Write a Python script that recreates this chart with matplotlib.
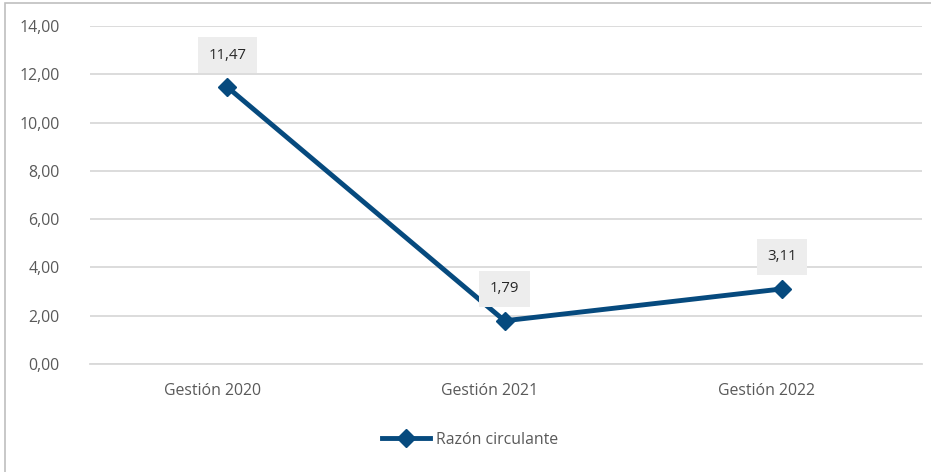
import matplotlib
matplotlib.use("Agg")
import matplotlib.pyplot as plt
import matplotlib.transforms as mtransforms
from matplotlib.patches import Rectangle

# —— 数据 —— #
categories = ["Gestión 2020", "Gestión 2021", "Gestión 2022"]
razon_circulante = [11.47, 1.79, 3.11]
y_ticks = [0, 2, 4, 6, 8, 10, 12, 14]
series_name = "Razón circulante"

LINE_C = "#064A7E"
GRID_C = "#D9D9D9"
TEXT_C = "#595959"

plt.rcParams["font.family"] = ["Open Sans", "DejaVu Sans"]

def fmt(v, nd=2):
    return f"{v:.{nd}f}".replace(".", ",")

fig = plt.figure(figsize=(9.31, 4.72), dpi=100)
ax = fig.add_axes([90/931, 1-364/472, (922-90)/931, (364-26)/472])

xs = list(range(len(categories)))
ax.plot(xs, razon_circulante, color=LINE_C, lw=3.5, marker="D", ms=9.5,
        markerfacecolor=LINE_C, markeredgecolor=LINE_C, label=series_name,
        solid_joinstyle="miter", zorder=3)

ax.set_xlim(-0.495, 2.505)
ax.set_ylim(0, 14)
ax.set_yticks(y_ticks)
ax.set_yticklabels([fmt(t) for t in y_ticks])
ax.set_xticks(xs)
ax.set_xticklabels(categories)
ax.grid(True, axis="y", color=GRID_C, lw=1.3)
ax.set_axisbelow(True)
for s in ["top", "right", "left"]:
    ax.spines[s].set_visible(False)
ax.spines["bottom"].set_color(GRID_C)
ax.spines["bottom"].set_linewidth(1.3)
ax.tick_params(axis="both", length=0, colors=TEXT_C, labelsize=11.4)
ax.tick_params(axis="y", pad=22)
ax.tick_params(axis="x", pad=14)

# Excel 的分类标签稍微偏左
off = mtransforms.ScaledTranslation(-15/100, 0, fig.dpi_scale_trans)
for lbl in ax.get_xticklabels():
    lbl.set_transform(lbl.get_transform() + off)

# 数据标签
for x, v in zip(xs, razon_circulante):
    ax.annotate(fmt(v), (x, v), xytext=(0, 23), textcoords="offset points",
                ha="center", va="center", fontsize=10.8, color="#262626",
                bbox=dict(boxstyle="square,pad=0.7", fc="#EDEDED", ec="none"),
                zorder=4)

leg = fig.legend(loc="center", bbox_to_anchor=(470/931, 1-440/472), frameon=False,
                 fontsize=11.4, handlelength=3.0, handletextpad=0.4)
for t in leg.get_texts():
    t.set_color(TEXT_C)

# 外框（只露出左边和上边）
fig.patches.append(Rectangle((5/931, -0.05), 1.2, 1-3/472+0.05, transform=fig.transFigure,
                             fill=False, ec="#BFBFBF", lw=1.2))

fig.savefig("out.png", dpi=100)
